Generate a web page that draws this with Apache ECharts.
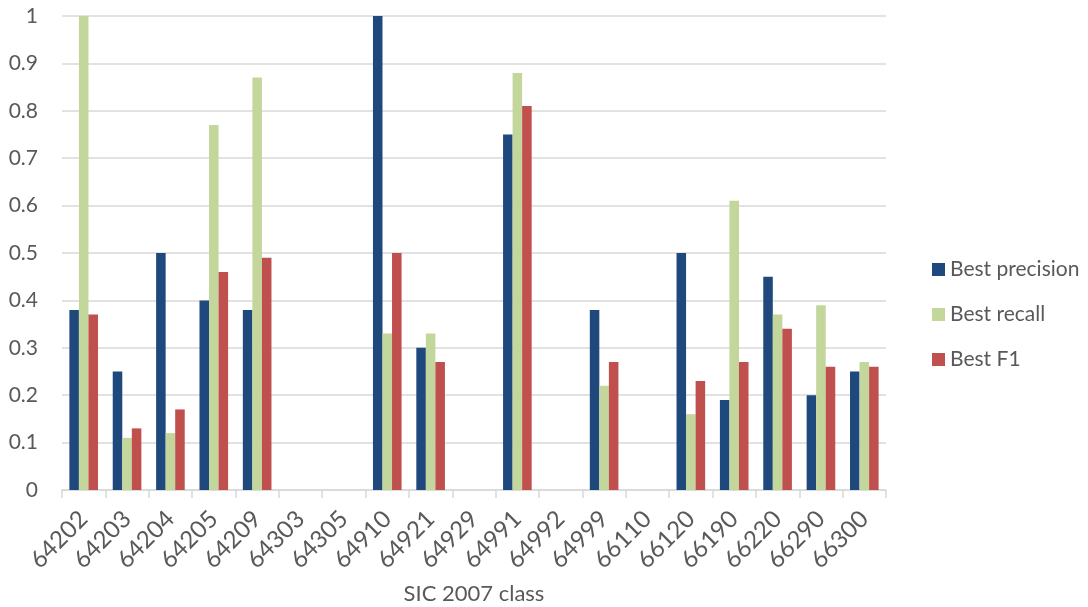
<!DOCTYPE html>
<html>
<head>
<meta charset="utf-8">
<script src="https://cdn.jsdelivr.net/npm/echarts@6/dist/echarts.min.js"></script>
<style>
  html, body { margin: 0; padding: 0; background: #fff; }
  #chart { width: 1088px; height: 607px; }
</style>
</head>
<body>
<div id="chart"></div>
<script>
// SIC 2007 classes along the x axis
const categories = ['64202', '64203', '64204', '64205', '64209', '64303', '64305', '64910', '64921',
  '64929', '64991', '64992', '64999', '66110', '66120', '66190', '66220', '66290', '66300'];

const bestPrecision = [0.38, 0.25, 0.50, 0.40, 0.38, 0, 0, 1.00, 0.30, 0, 0.75, 0, 0.38, 0, 0.50, 0.19, 0.45, 0.20, 0.25];
const bestRecall    = [1.00, 0.11, 0.12, 0.77, 0.87, 0, 0, 0.33, 0.33, 0, 0.88, 0, 0.22, 0, 0.16, 0.61, 0.37, 0.39, 0.27];
const bestF1        = [0.37, 0.13, 0.17, 0.46, 0.49, 0, 0, 0.50, 0.27, 0, 0.81, 0, 0.27, 0, 0.23, 0.27, 0.34, 0.26, 0.26];

const yTicks = { min: 0, max: 1, interval: 0.1 };

const FONT = 'Lato, "Open Sans", sans-serif';
const TEXT = '#595959';
const FS = 21;

const chart = echarts.init(document.getElementById('chart'), null, { renderer: 'canvas' });

chart.setOption({
  animation: false,
  textStyle: { fontFamily: FONT, color: TEXT },
  color: ['#1f497d', '#c3d69b', '#c0504d'],
  grid: { left: 62, right: 202, top: 16, bottom: 117, containLabel: false, outerBoundsMode: 'none' },
  legend: {
    orient: 'vertical',
    left: 927,
    top: 254,
    itemWidth: 13,
    itemHeight: 13,
    itemGap: 24,
    icon: 'rect',
    textStyle: { fontFamily: FONT, fontSize: FS, color: TEXT },
    data: ['Best precision', 'Best recall', 'Best F1']
  },
  xAxis: {
    type: 'category',
    data: categories,
    name: 'SIC 2007 class',
    nameLocation: 'middle',
    nameGap: 93,
    nameTextStyle: { fontFamily: FONT, fontSize: 22, color: TEXT },
    axisLine: { lineStyle: { color: '#d9d9d9', width: 1.5 } },
    axisTick: { show: true, length: 8, lineStyle: { color: '#d9d9d9', width: 1.5 } },
    axisLabel: { rotate: 45, fontSize: 24, color: TEXT, margin: 25, interval: 0 }
  },
  yAxis: {
    type: 'value',
    min: yTicks.min,
    max: yTicks.max,
    interval: yTicks.interval,
    axisLine: { show: false },
    axisTick: { show: false },
    splitLine: { lineStyle: { color: '#d9d9d9', width: 1.5 } },
    axisLabel: {
      fontSize: FS,
      color: TEXT,
      margin: 24,
      formatter: v => (Math.round(v * 10) / 10).toString()
    }
  },
  series: [
    { name: 'Best precision', type: 'bar', data: bestPrecision, barGap: '0%', barCategoryGap: '34%' },
    { name: 'Best recall', type: 'bar', data: bestRecall, barGap: '0%', barCategoryGap: '34%' },
    { name: 'Best F1', type: 'bar', data: bestF1, barGap: '0%', barCategoryGap: '34%' }
  ]
});
</script>
</body>
</html>
